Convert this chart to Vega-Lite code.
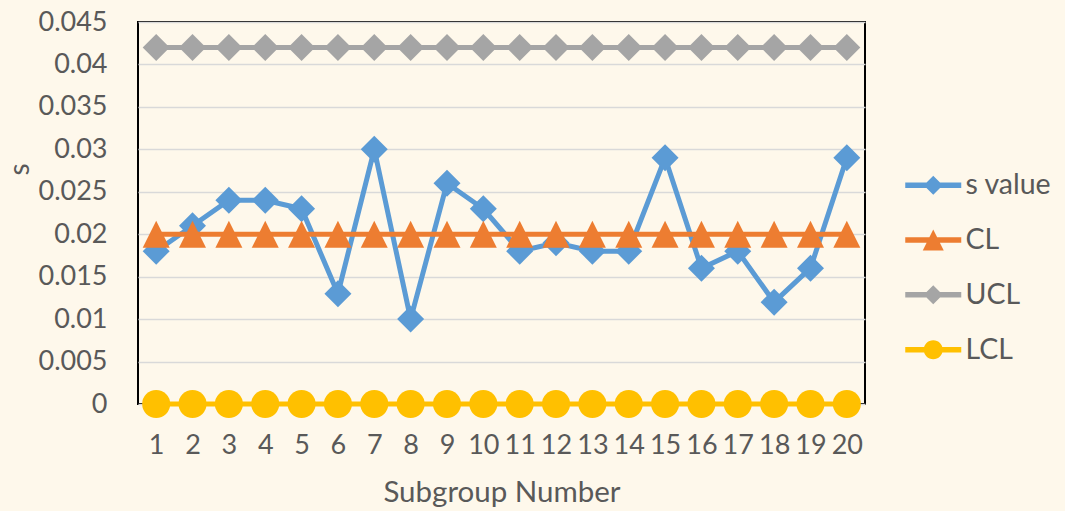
{
  "$schema": "https://vega.github.io/schema/vega-lite/v6.json",
  "width": 727,
  "height": 382,
  "autosize": {"type": "none"},
  "padding": {"left": 138, "top": 22, "right": 200, "bottom": 107},
  "background": "#FEF8EB",
  "data": {
    "values": [
      {"n": 1, "series": "s value", "v": 0.018}, {"n": 2, "series": "s value", "v": 0.021},
      {"n": 3, "series": "s value", "v": 0.024}, {"n": 4, "series": "s value", "v": 0.024},
      {"n": 5, "series": "s value", "v": 0.023}, {"n": 6, "series": "s value", "v": 0.013},
      {"n": 7, "series": "s value", "v": 0.030}, {"n": 8, "series": "s value", "v": 0.010},
      {"n": 9, "series": "s value", "v": 0.026}, {"n": 10, "series": "s value", "v": 0.023},
      {"n": 11, "series": "s value", "v": 0.018}, {"n": 12, "series": "s value", "v": 0.019},
      {"n": 13, "series": "s value", "v": 0.018}, {"n": 14, "series": "s value", "v": 0.018},
      {"n": 15, "series": "s value", "v": 0.029}, {"n": 16, "series": "s value", "v": 0.016},
      {"n": 17, "series": "s value", "v": 0.018}, {"n": 18, "series": "s value", "v": 0.012},
      {"n": 19, "series": "s value", "v": 0.016}, {"n": 20, "series": "s value", "v": 0.029},
      {"n": 1, "series": "CL", "v": 0.02}, {"n": 2, "series": "CL", "v": 0.02},
      {"n": 3, "series": "CL", "v": 0.02}, {"n": 4, "series": "CL", "v": 0.02},
      {"n": 5, "series": "CL", "v": 0.02}, {"n": 6, "series": "CL", "v": 0.02},
      {"n": 7, "series": "CL", "v": 0.02}, {"n": 8, "series": "CL", "v": 0.02},
      {"n": 9, "series": "CL", "v": 0.02}, {"n": 10, "series": "CL", "v": 0.02},
      {"n": 11, "series": "CL", "v": 0.02}, {"n": 12, "series": "CL", "v": 0.02},
      {"n": 13, "series": "CL", "v": 0.02}, {"n": 14, "series": "CL", "v": 0.02},
      {"n": 15, "series": "CL", "v": 0.02}, {"n": 16, "series": "CL", "v": 0.02},
      {"n": 17, "series": "CL", "v": 0.02}, {"n": 18, "series": "CL", "v": 0.02},
      {"n": 19, "series": "CL", "v": 0.02}, {"n": 20, "series": "CL", "v": 0.02},
      {"n": 1, "series": "UCL", "v": 0.042}, {"n": 2, "series": "UCL", "v": 0.042},
      {"n": 3, "series": "UCL", "v": 0.042}, {"n": 4, "series": "UCL", "v": 0.042},
      {"n": 5, "series": "UCL", "v": 0.042}, {"n": 6, "series": "UCL", "v": 0.042},
      {"n": 7, "series": "UCL", "v": 0.042}, {"n": 8, "series": "UCL", "v": 0.042},
      {"n": 9, "series": "UCL", "v": 0.042}, {"n": 10, "series": "UCL", "v": 0.042},
      {"n": 11, "series": "UCL", "v": 0.042}, {"n": 12, "series": "UCL", "v": 0.042},
      {"n": 13, "series": "UCL", "v": 0.042}, {"n": 14, "series": "UCL", "v": 0.042},
      {"n": 15, "series": "UCL", "v": 0.042}, {"n": 16, "series": "UCL", "v": 0.042},
      {"n": 17, "series": "UCL", "v": 0.042}, {"n": 18, "series": "UCL", "v": 0.042},
      {"n": 19, "series": "UCL", "v": 0.042}, {"n": 20, "series": "UCL", "v": 0.042},
      {"n": 1, "series": "LCL", "v": 0}, {"n": 2, "series": "LCL", "v": 0},
      {"n": 3, "series": "LCL", "v": 0}, {"n": 4, "series": "LCL", "v": 0},
      {"n": 5, "series": "LCL", "v": 0}, {"n": 6, "series": "LCL", "v": 0},
      {"n": 7, "series": "LCL", "v": 0}, {"n": 8, "series": "LCL", "v": 0},
      {"n": 9, "series": "LCL", "v": 0}, {"n": 10, "series": "LCL", "v": 0},
      {"n": 11, "series": "LCL", "v": 0}, {"n": 12, "series": "LCL", "v": 0},
      {"n": 13, "series": "LCL", "v": 0}, {"n": 14, "series": "LCL", "v": 0},
      {"n": 15, "series": "LCL", "v": 0}, {"n": 16, "series": "LCL", "v": 0},
      {"n": 17, "series": "LCL", "v": 0}, {"n": 18, "series": "LCL", "v": 0},
      {"n": 19, "series": "LCL", "v": 0}, {"n": 20, "series": "LCL", "v": 0}
    ]
  },
  "encoding": {
    "x": {
      "field": "n", "type": "ordinal",
      "scale": {"type": "point", "padding": 0.5},
      "axis": {"title": "Subgroup Number", "labelAngle": 0, "grid": false, "domain": false, "ticks": false, "tickSize": 0, "labelPadding": 28, "titleBaseline": "alphabetic", "titleY": 97, "titleFontSize": 29.5}
    },
    "y": {
      "field": "v", "type": "quantitative",
      "scale": {"domain": [0, 0.045], "nice": false, "zero": true},
      "axis": {"title": "s", "values": [0, 0.005, 0.01, 0.015, 0.02, 0.025, 0.03, 0.035, 0.04, 0.045], "format": "~g", "domain": false, "ticks": false, "tickSize": 0, "labelPadding": 31, "grid": true, "titleX": -118, "titleY": 147, "titleAngle": -90, "titleAlign": "center", "titleBaseline": "middle", "titleFontSize": 28}
    }
  },
  "layer": [
    {
      "transform": [{"filter": "datum.series === 's value'"}],
      "mark": {"type": "line", "color": "#5B9BD5", "strokeWidth": 5, "point": {"filled": true, "shape": "diamond", "size": 729, "color": "#5B9BD5", "opacity": 1}}
    },
    {
      "transform": [{"filter": "datum.series === 'CL'"}],
      "mark": {"type": "line", "color": "#ED7D31", "strokeWidth": 5, "point": {"filled": true, "shape": "M0,-1L1,1L-1,1Z", "size": 729, "color": "#ED7D31", "opacity": 1}}
    },
    {
      "transform": [{"filter": "datum.series === 'UCL'"}],
      "mark": {"type": "line", "color": "#A5A5A5", "strokeWidth": 5, "point": {"filled": true, "shape": "diamond", "size": 729, "color": "#A5A5A5", "opacity": 1}}
    },
    {
      "transform": [{"filter": "datum.series === 'LCL'"}],
      "mark": {"type": "line", "color": "#FFC000", "strokeWidth": 5, "point": {"filled": true, "shape": "circle", "size": 784, "color": "#FFC000", "opacity": 1}}
    },
    {
      "mark": {"type": "point", "filled": true, "opacity": 0},
      "encoding": {
        "color": {
          "field": "series", "type": "nominal",
          "scale": {"domain": ["s value", "CL", "UCL", "LCL"], "range": ["#5B9BD5", "#ED7D31", "#A5A5A5", "#FFC000"]},
          "legend": {"title": null, "orient": "none", "legendX": 781, "legendY": 149}
        },
        "shape": {
          "field": "series", "type": "nominal",
          "scale": {"domain": ["s value", "CL", "UCL", "LCL"], "range": [
            "M-5.6,-0.55H5.6V0.55H-5.6Z M0,-1.9L1.9,0L0,1.9L-1.9,0Z",
            "M-5.6,-0.55H5.6V0.55H-5.6Z M0,-2.1L2.1,2.1L-2.1,2.1Z",
            "M-5.6,-0.55H5.6V0.55H-5.6Z M0,-1.9L1.9,0L0,1.9L-1.9,0Z",
            "M-5.6,-0.55H5.6V0.55H-5.6Z M-1.9,0A1.9,1.9 0 1,1 1.9,0A1.9,1.9 0 1,1 -1.9,0Z"
          ]},
          "legend": {"title": null, "orient": "none", "legendX": 781, "legendY": 149}
        }
      }
    }
  ],
  "config": {
    "view": {"stroke": "#000000", "strokeWidth": 2},
    "axis": {
      "labelFont": "Lato", "labelFontSize": 27, "labelColor": "#595959",
      "titleFont": "Lato", "titleFontSize": 27, "titleColor": "#595959", "titleFontWeight": "normal",
      "gridColor": "#D9D9D9", "gridWidth": 1.5
    },
    "legend": {
      "labelFont": "Lato", "labelFontSize": 28.5, "labelColor": "#595959",
      "symbolSize": 100, "symbolOpacity": 1, "symbolStrokeWidth": 0,
      "labelOffset": 18, "rowPadding": 25.8, "padding": 0
    }
  }
}
